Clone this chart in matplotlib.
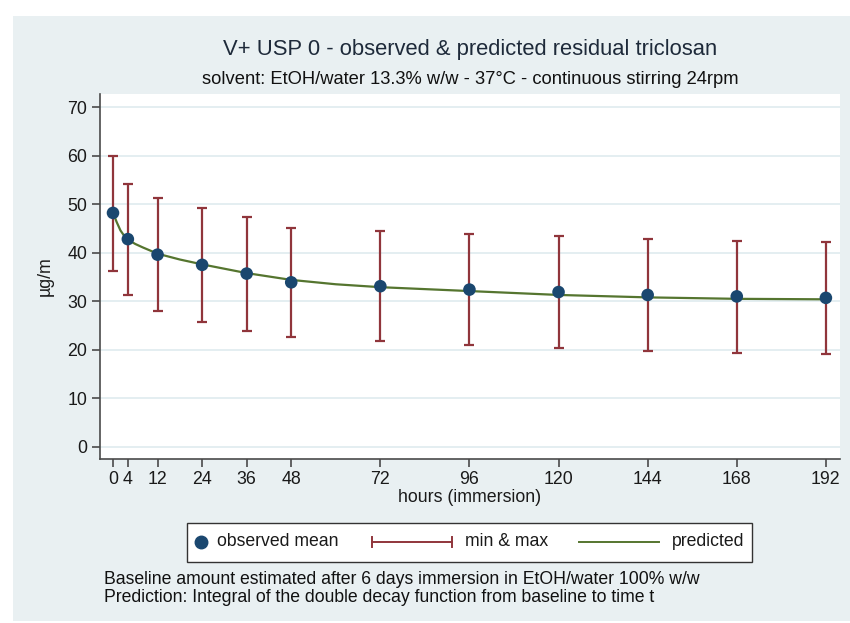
import matplotlib
matplotlib.use("Agg")
import matplotlib.pyplot as plt
from matplotlib.lines import Line2D
from matplotlib.patches import Rectangle

plt.rcParams['font.family'] = ['Liberation Sans', 'DejaVu Sans']

hours = [0, 4, 12, 24, 36, 48, 72, 96, 120, 144, 168, 192]
obs_mean = [48.2, 42.8, 39.6, 37.5, 35.7, 33.9, 33.1, 32.4, 31.9, 31.3, 31.0, 30.7]
obs_max = [60.0, 54.2, 51.3, 49.2, 47.3, 45.1, 44.5, 43.8, 43.4, 42.9, 42.5, 42.3]
obs_min = [36.3, 31.3, 27.9, 25.8, 23.9, 22.7, 21.9, 21.0, 20.4, 19.7, 19.4, 19.1]

pred_t = [0, 1, 2, 3, 4, 6, 8, 12, 18, 24, 36, 48, 60, 72, 84, 96, 120, 144, 168, 192]
pred_v = [48.2, 46.3, 44.6, 43.5, 42.7, 41.8, 41.1, 39.8, 38.6, 37.6, 35.8, 34.4, 33.5, 32.9, 32.5, 32.1, 31.3, 30.8, 30.5, 30.4]

xticks = [0, 4, 12, 24, 36, 48, 72, 96, 120, 144, 168, 192]
yticks = [0, 10, 20, 30, 40, 50, 60, 70]
legend_labels = ['observed mean', 'min & max', 'predicted']

NAVY = '#1a476f'
MAROON = '#90353b'
GREEN = '#55752f'
BG = '#e9f0f2'
GRID = '#e4eef1'
AXC = '#4a4a4a'
TXT = '#1a1a1a'

W, H = 850, 623
fig = plt.figure(figsize=(W/100, H/100), dpi=100)
fig.patch.set_facecolor('white')


def fx(px):
    return px / W


def fy(py):
    return 1 - py / H


fig.add_artist(Rectangle((fx(13), fy(621)), (850-13)/W, (621-16)/H,
                         transform=fig.transFigure, facecolor=BG, edgecolor='none', zorder=-10))

ax = fig.add_axes([fx(100), fy(459), (840-100)/W, (459-94)/H])
ax.set_facecolor('white')
ax.set_xlim(-3.5, 195.8)
ax.set_ylim(-2.5, 72.7)
for s in ['top', 'right']:
    ax.spines[s].set_visible(False)
for s in ['left', 'bottom']:
    ax.spines[s].set_color(AXC)
    ax.spines[s].set_linewidth(1.2)
ax.set_xticks(xticks)
ax.set_xticklabels([str(v) for v in xticks])
ax.set_yticks(yticks)
ax.set_yticklabels([str(v) for v in yticks])
ax.tick_params(axis='both', colors=AXC, labelcolor=TXT, labelsize=12.8,
               length=6, width=1.2, direction='out', pad=3)
ax.yaxis.grid(True, color=GRID, linewidth=1.4)
ax.set_axisbelow(True)

yerr_lo = [m - lo for m, lo in zip(obs_mean, obs_min)]
yerr_hi = [hi - m for m, hi in zip(obs_mean, obs_max)]
ax.errorbar(hours, obs_mean, yerr=[yerr_lo, yerr_hi], fmt='none', ecolor=MAROON,
            elinewidth=1.6, capsize=3.6, capthick=1.6, zorder=2)
ax.plot(pred_t, pred_v, color=GREEN, linewidth=1.6, zorder=3)
ax.scatter(hours, obs_mean, s=82, color=NAVY, zorder=4, edgecolors='none')

ax.set_xlabel('hours (immersion)', fontsize=12.8, color=TXT, labelpad=0)
ax.set_ylabel('µg/m', fontsize=12.8, color=TXT, labelpad=10)

fig.text(fx(470), fy(50), 'V+ USP 0 - observed & predicted residual triclosan',
         ha='center', va='center', fontsize=15.8, color='#1e2a3a')
fig.text(fx(470), fy(80), 'solvent: EtOH/water 13.3% w/w - 37°C - continuous stirring 24rpm',
         ha='center', va='center', fontsize=13.2, color='#111111')

# legend box (drawn in figure pixel positions)
ly = 542
fig.add_artist(Rectangle((fx(187), fy(562)), (752-187)/W, (562-523)/H,
                         transform=fig.transFigure, facecolor='white',
                         edgecolor='#333333', linewidth=1.0, zorder=5))
fig.add_artist(Line2D([fx(201)], [fy(ly)], marker='o', markersize=9, color=NAVY,
                      linestyle='none', transform=fig.transFigure, zorder=6))
fig.text(fx(217), fy(ly), legend_labels[0], ha='left', va='center',
         fontsize=12.7, color=TXT, zorder=6)
fig.add_artist(Line2D([fx(372), fx(452)], [fy(ly), fy(ly)], color=MAROON, lw=1.4,
                      transform=fig.transFigure, zorder=6))
for cx in (372, 452):
    fig.add_artist(Line2D([fx(cx), fx(cx)], [fy(ly - 5), fy(ly + 5)], color=MAROON, lw=1.4,
                          transform=fig.transFigure, zorder=6))
fig.text(fx(465), fy(ly), legend_labels[1], ha='left', va='center',
         fontsize=12.7, color=TXT, zorder=6)
fig.add_artist(Line2D([fx(579), fx(659)], [fy(ly), fy(ly)], color=GREEN, lw=1.4,
                      transform=fig.transFigure, zorder=6))
fig.text(fx(672), fy(ly), legend_labels[2], ha='left', va='center',
         fontsize=12.7, color=TXT, zorder=6)

fig.text(fx(104), fy(580), 'Baseline amount estimated after 6 days immersion in EtOH/water 100% w/w',
         ha='left', va='center', fontsize=12.7, color='#111111')
fig.text(fx(104), fy(597), 'Prediction: Integral of the double decay function from baseline to time t',
         ha='left', va='center', fontsize=12.7, color='#111111')

fig.savefig('out.png', dpi=100, facecolor=fig.get_facecolor())
